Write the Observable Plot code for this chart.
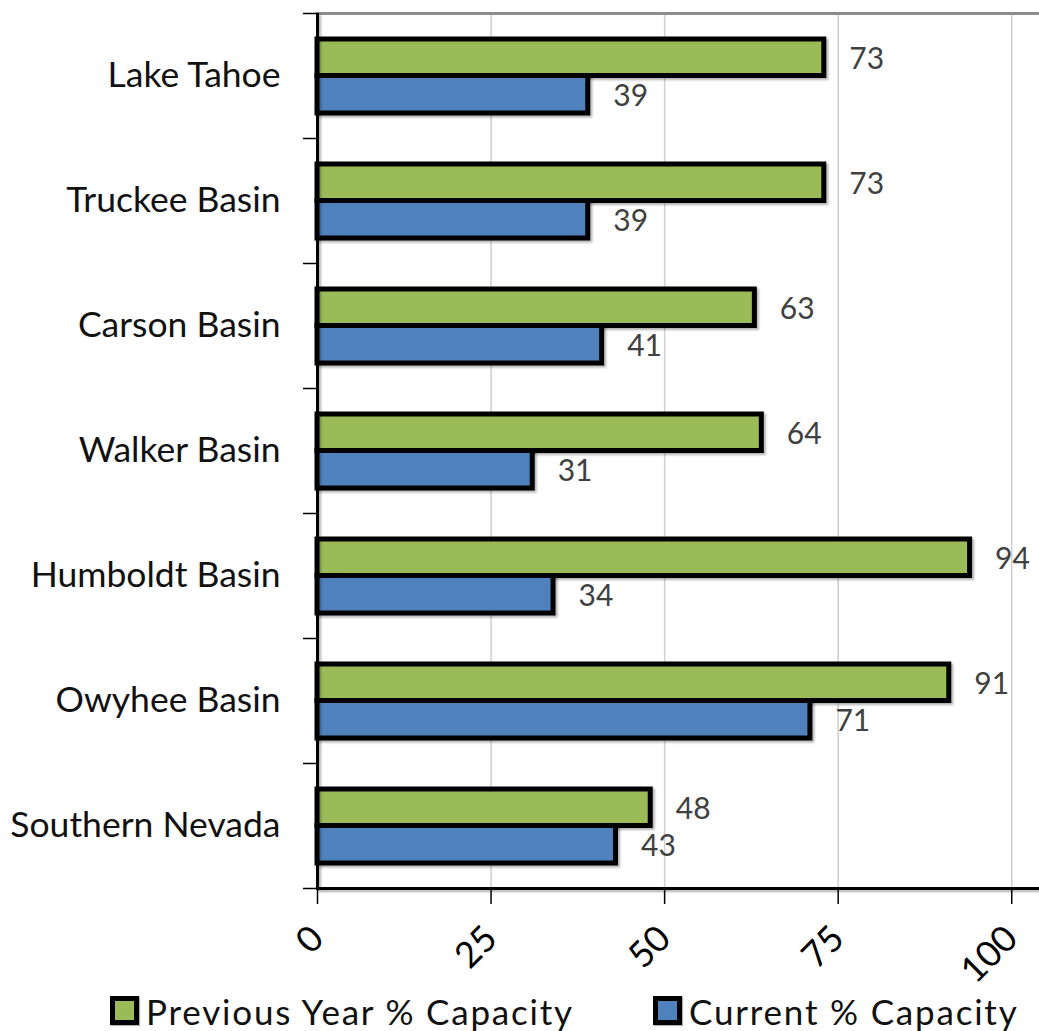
<!DOCTYPE html>
<html>
<head>
<meta charset="utf-8">
<script src="https://cdn.jsdelivr.net/npm/d3@7"></script>
<script src="https://cdn.jsdelivr.net/npm/@observablehq/plot@0.6"></script>
<style>
  html, body { margin: 0; padding: 0; background: #fff; }
  #chart { width: 1039px; font-family: Lato, "Open Sans", sans-serif; }
  .legend { position: relative; height: 41px; font-family: Lato, sans-serif; font-size: 35px; letter-spacing: 1.8px; color: #111; }
  .legend .item { position: absolute; top: 0; display: flex; align-items: center; height: 41px; }
  .legend .sw { width: 19px; height: 19px; border: 5px solid #000; margin-right: 7px; box-shadow: 1px 1px 1px rgba(0,0,0,0.3); }
</style>
</head>
<body>
<div id="chart"></div>
<script>
// Reservoir storage by basin, percent of capacity
const basins = ["Lake Tahoe", "Truckee Basin", "Carson Basin", "Walker Basin", "Humboldt Basin", "Owyhee Basin", "Southern Nevada"];
const previousYear = [73, 73, 63, 64, 94, 91, 48];
const current = [39, 39, 41, 31, 34, 71, 43];
const xTicks = [0, 25, 50, 75, 100];
const seriesNames = ["Previous Year % Capacity", "Current % Capacity"];
const seriesColors = ["#9BBB59", "#4F81BD"];

const rows = basins.map((b, i) => ({basin: b, previous: previousYear[i], current: current[i]}));

const bandStep = (888 - 13) / basins.length;
const shadow = "drop-shadow(2px 2px 1px rgba(0,0,0,0.3))";

const chart = Plot.plot({
  width: 1039,
  height: 990,
  marginLeft: 317,
  marginRight: 0,
  marginTop: 13,
  marginBottom: 102,
  style: {fontFamily: "Lato, sans-serif", background: "#fff"},
  x: {domain: [0, 104], axis: null},
  y: {domain: basins, padding: 0, axis: null},
  marks: [
    Plot.gridX(xTicks.slice(1), {stroke: "#cfcfcf", strokeOpacity: 1, strokeWidth: 1.5}),
    Plot.frame({anchor: "top", stroke: "#8c8c8c", strokeWidth: 3}),
    // previous year bars (upper half of each band)
    Plot.barX(rows, {x: "previous", y: "basin", fill: seriesColors[0], stroke: "#000", strokeWidth: 5,
      insetTop: 26, insetBottom: bandStep - 62.5, imageFilter: shadow}),
    // current bars (lower half of each band)
    Plot.barX(rows, {x: "current", y: "basin", fill: seriesColors[1], stroke: "#000", strokeWidth: 5,
      insetTop: 62.5, insetBottom: 25, imageFilter: shadow}),
    Plot.text(rows, {x: "previous", y: "basin", text: d => String(d.previous), dx: 25, dy: -17,
      textAnchor: "start", fontSize: 30, fill: "#404040"}),
    Plot.text(rows, {x: "current", y: "basin", text: d => String(d.current), dx: 25, dy: 20,
      textAnchor: "start", fontSize: 30, fill: "#404040"}),
    // axis lines
    Plot.ruleX([0], {stroke: "#000", strokeWidth: 3, imageFilter: shadow}),
    Plot.frame({anchor: "bottom", stroke: "#000", strokeWidth: 3, imageFilter: shadow}),
    // x axis
    Plot.axisX({ticks: xTicks, tickSize: 16, tickPadding: 28, tickRotate: -45, fontSize: 36,
      stroke: "#000", strokeWidth: 1.5, fill: "#000", label: null}),
    // category labels
    Plot.axisY({tickSize: 0, tickPadding: 37, fontSize: 35.5, fill: "#111", label: null}),
    // tick marks on band boundaries
    Plot.axisY({tickSize: 14, tickFormat: () => "", dy: -bandStep / 2, stroke: "#000", strokeWidth: 1.5, label: null}),
    Plot.axisY({ticks: [basins[basins.length - 1]], tickSize: 14, tickFormat: () => "", dy: bandStep / 2, stroke: "#000", strokeWidth: 1.5, label: null})
  ]
});

const host = document.getElementById("chart");
host.appendChild(chart);

// legend below the plot
const legend = document.createElement("div");
legend.className = "legend";
const legendX = [110, 653];
seriesNames.forEach((name, i) => {
  const item = document.createElement("div");
  item.className = "item";
  item.style.left = legendX[i] + "px";
  const sw = document.createElement("span");
  sw.className = "sw";
  sw.style.background = seriesColors[i];
  const label = document.createElement("span");
  label.textContent = name;
  item.appendChild(sw);
  item.appendChild(label);
  legend.appendChild(item);
});
host.appendChild(legend);
</script>
</body>
</html>
